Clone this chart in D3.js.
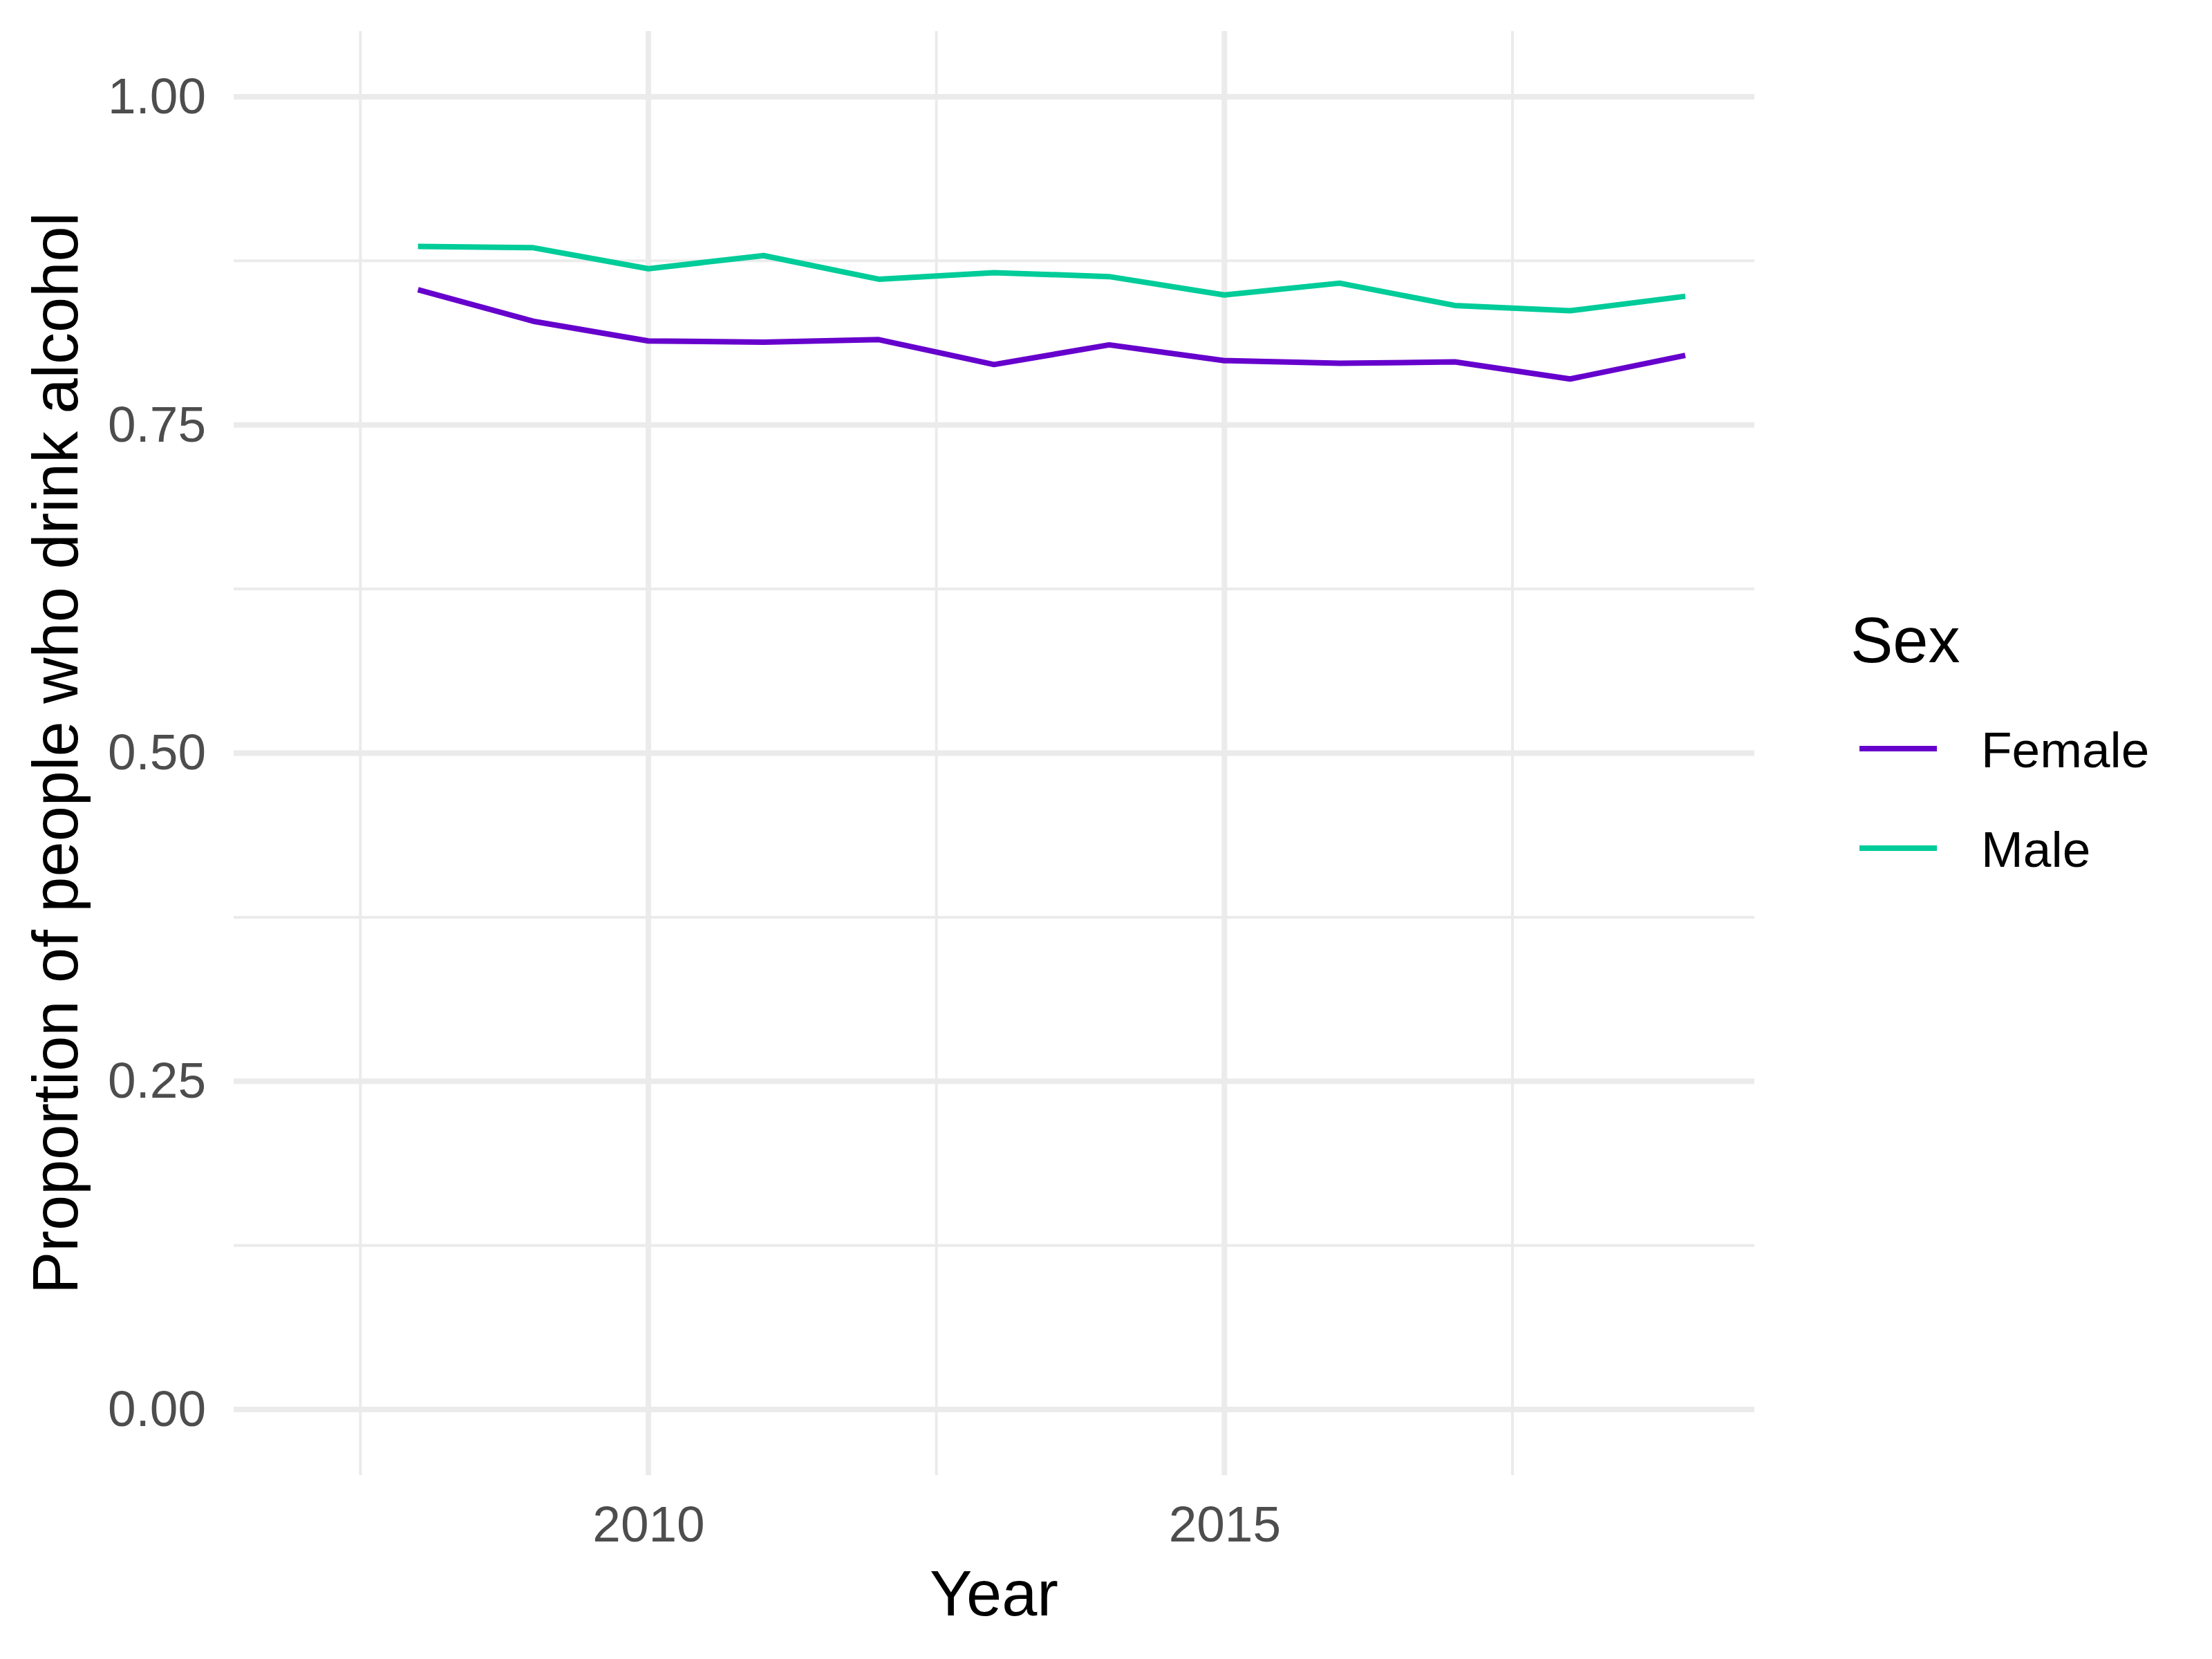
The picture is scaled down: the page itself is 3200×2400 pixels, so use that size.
<!DOCTYPE html>
<html>
<head>
<meta charset="utf-8">
<script src="https://cdn.jsdelivr.net/npm/d3@7"></script>
<style>
  html, body { margin: 0; padding: 0; background: #ffffff; }
  svg { display: block; }
  text { font-family: "Liberation Sans", Arial, sans-serif; }
</style>
</head>
<body>
<script>
const years = [2008, 2009, 2010, 2011, 2012, 2013, 2014, 2015, 2016, 2017, 2018, 2019];
const female = [0.853, 0.829, 0.814, 0.813, 0.815, 0.796, 0.811, 0.799, 0.797, 0.798, 0.785, 0.803];
const male = [0.886, 0.885, 0.869, 0.879, 0.861, 0.866, 0.863, 0.849, 0.858, 0.841, 0.837, 0.848];
const seriesNames = ["Female", "Male"];
const seriesColors = ["#6600CC", "#00CC99"];
const xMajorTicks = [2010, 2015];
const xMinorTicks = [2007.5, 2012.5, 2017.5];
const yMajorTicks = [0, 0.25, 0.5, 0.75, 1];
const yMinorTicks = [0.125, 0.375, 0.625, 0.875];
const xLabel = "Year";
const yLabel = "Proportion of people who drink alcohol";
const legendTitle = "Sex";

const W = 3200, H = 2400;
const panel = { left: 338, right: 2538, top: 45, bottom: 2134 };

const svg = d3.select("body").append("svg")
  .attr("width", W).attr("height", H)
  .attr("viewBox", `0 0 ${W} ${H}`);

svg.append("rect").attr("width", W).attr("height", H).attr("fill", "#ffffff");

const x = d3.scaleLinear().domain([2006.4, 2019.6]).range([panel.left, panel.right]);
const y = d3.scaleLinear().domain([-0.05, 1.05]).range([panel.bottom, panel.top]);

const grid = svg.append("g");
const gridColor = "#EBEBEB";

// minor gridlines
grid.selectAll("line.ymin").data(yMinorTicks).join("line")
  .attr("x1", panel.left).attr("x2", panel.right)
  .attr("y1", d => y(d)).attr("y2", d => y(d))
  .attr("stroke", gridColor).attr("stroke-width", 4);
grid.selectAll("line.xmin").data(xMinorTicks).join("line")
  .attr("y1", panel.top).attr("y2", panel.bottom)
  .attr("x1", d => x(d)).attr("x2", d => x(d))
  .attr("stroke", gridColor).attr("stroke-width", 4);
// major gridlines
grid.selectAll("line.ymaj").data(yMajorTicks).join("line")
  .attr("x1", panel.left).attr("x2", panel.right)
  .attr("y1", d => y(d)).attr("y2", d => y(d))
  .attr("stroke", gridColor).attr("stroke-width", 8);
grid.selectAll("line.xmaj").data(xMajorTicks).join("line")
  .attr("y1", panel.top).attr("y2", panel.bottom)
  .attr("x1", d => x(d)).attr("x2", d => x(d))
  .attr("stroke", gridColor).attr("stroke-width", 8);

// axes
const yAxis = svg.append("g")
  .attr("transform", `translate(${panel.left},0)`)
  .call(d3.axisLeft(y).tickValues(yMajorTicks).tickFormat(d3.format(".2f")).tickSize(0).tickPadding(40));
yAxis.select(".domain").remove();
yAxis.selectAll("text")
  .attr("fill", "#4D4D4D")
  .style("font-size", "73px")
  .style("font-family", "'Liberation Sans', Arial, sans-serif");

const xAxis = svg.append("g")
  .attr("transform", `translate(0,${panel.bottom})`)
  .call(d3.axisBottom(x).tickValues(xMajorTicks).tickFormat(d3.format("d")).tickSize(0).tickPadding(44));
xAxis.select(".domain").remove();
xAxis.selectAll("text")
  .attr("fill", "#4D4D4D")
  .style("font-size", "73px")
  .style("font-family", "'Liberation Sans', Arial, sans-serif");

// axis titles
svg.append("text")
  .attr("x", (panel.left + panel.right) / 2)
  .attr("y", 2337)
  .attr("text-anchor", "middle")
  .attr("fill", "#000000")
  .style("font-size", "92px")
  .text(xLabel);

svg.append("text")
  .attr("transform", `translate(112,${(panel.top + panel.bottom) / 2}) rotate(-90)`)
  .attr("text-anchor", "middle")
  .attr("fill", "#000000")
  .style("font-size", "92px")
  .text(yLabel);

// lines
const seriesData = [female, male];
const line = d3.line()
  .x((d, i) => x(years[i]))
  .y(d => y(d));

svg.append("g").selectAll("path").data(seriesData).join("path")
  .attr("d", d => line(d))
  .attr("fill", "none")
  .attr("stroke", (d, i) => seriesColors[i])
  .attr("stroke-width", 8)
  .attr("stroke-linejoin", "round")
  .attr("stroke-linecap", "butt");

// legend
const legend = svg.append("g");
legend.append("text")
  .attr("x", 2677).attr("y", 958)
  .attr("fill", "#000000")
  .style("font-size", "92px")
  .text(legendTitle);

const legendY = [1083, 1227];
const items = legend.selectAll("g.item").data(seriesNames).join("g")
  .attr("transform", (d, i) => `translate(0,${legendY[i]})`);
items.append("line")
  .attr("x1", 2690).attr("x2", 2802)
  .attr("y1", 0).attr("y2", 0)
  .attr("stroke", (d, i) => seriesColors[i])
  .attr("stroke-width", 8);
items.append("text")
  .attr("x", 2866).attr("y", 27)
  .attr("fill", "#000000")
  .style("font-size", "73px")
  .text(d => d);
</script>
</body>
</html>
